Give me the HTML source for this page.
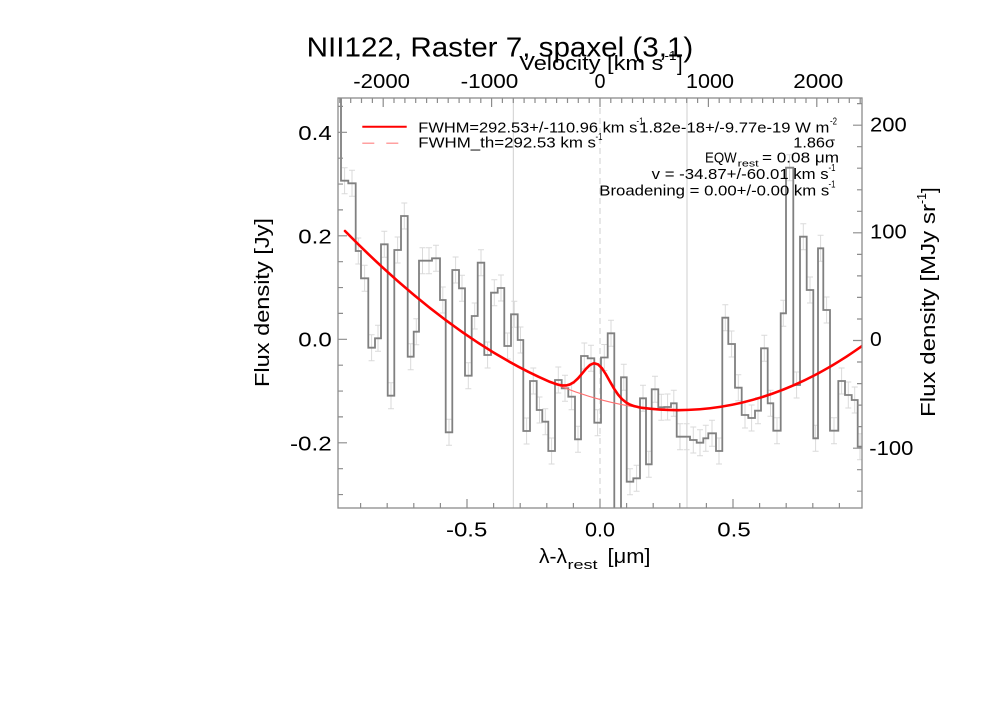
<!DOCTYPE html>
<html>
<head>
<meta charset="utf-8">
<style>
html,body{margin:0;padding:0;background:#fff;}
svg{display:block;}
text{font-family:"Liberation Sans",Arial,sans-serif;fill:#000;}
</style>
</head>
<body>
<svg width="1000" height="714" viewBox="0 0 1000 714" xmlns="http://www.w3.org/2000/svg">
<rect x="0" y="0" width="1000" height="714" fill="#fff"/>
<defs>
<clipPath id="pc"><rect x="338" y="98" width="524" height="410"/></clipPath>
</defs>

<!-- guide lines -->
<g stroke="#cfcfcf" stroke-width="1" fill="none">
<line x1="513.3" y1="98" x2="513.3" y2="508"/>
<line x1="687" y1="98" x2="687" y2="508"/>
<line x1="600" y1="98" x2="600" y2="508" stroke-dasharray="6 4"/>
</g>

<!-- error bars -->
<g clip-path="url(#pc)" stroke="#dadada" stroke-width="1" fill="none">
<path d="
M344.6,167.7V193.7M341.6,167.7H347.6M341.6,193.7H347.6
M352,170.3V196.3M349,170.3H355M349,196.3H355
M358.3,238V264M355.3,238H361.3M355.3,264H361.3
M364.6,265.3V291.3M361.6,265.3H367.6M361.6,291.3H367.6
M371.6,334.7V360.7M368.6,334.7H374.6M368.6,360.7H374.6
M378,325.3V351.3M375,325.3H381M375,351.3H381
M384.3,231.3V257.3M381.3,231.3H387.3M381.3,257.3H387.3
M391,382.7V408.7M388,382.7H394M388,408.7H394
M397.6,237V263M394.6,237H400.6M394.6,263H400.6
M404.3,203V229M401.3,203H407.3M401.3,229H407.3
M410.7,343.7V369.7M407.7,343.7H413.7M407.7,369.7H413.7
M416.3,318.7V344.7M413.3,318.7H419.3M413.3,344.7H419.3
M422.5,247.7V273.7M419.5,247.7H425.5M419.5,273.7H425.5
M429,247.7V273.7M426,247.7H432M426,273.7H432
M436,245.3V271.3M433,245.3H439M433,271.3H439
M442.8,287V313M439.8,287H445.8M439.8,313H445.8
M449,419.3V445.3M446,419.3H452M446,445.3H452
M455.6,257V283M452.6,257H458.6M452.6,283H458.6
M462,275.3V301.3M459,275.3H465M459,301.3H465
M468.3,362.7V388.7M465.3,362.7H471.3M465.3,388.7H471.3
M474.7,303V329M471.7,303H477.7M471.7,329H477.7
M481,249.7V275.7M478,249.7H484M478,275.7H484
M487.6,342V368M484.6,342H490.6M484.6,368H490.6
M494.3,279.7V305.7M491.3,279.7H497.3M491.3,305.7H497.3
M501,275V301M498,275H504M498,301H504
M507.6,333V359M504.6,333H510.6M504.6,359H510.6
M514.3,301.3V327.3M511.3,301.3H517.3M511.3,327.3H517.3
M520.5,327V353M517.5,327H523.5M517.5,353H523.5
M526.6,418V444M523.6,418H529.6M523.6,444H529.6
M533.3,368V394M530.3,368H536.3M530.3,394H536.3
M539.5,397V423M536.5,397H542.5M536.5,423H542.5
M545.3,408.7V434.7M542.3,408.7H548.3M542.3,434.7H548.3
M551.6,438V464M548.6,438H554.6M548.6,464H554.6
M558.3,367V393M555.3,367H561.3M555.3,393H561.3
M565,375.3V401.3M562,375.3H568M562,401.3H568
M571.6,383.7V409.7M568.6,383.7H574.6M568.6,409.7H574.6
M578,426.3V452.3M575,426.3H581M575,452.3H581
M584.3,343V369M581.3,343H587.3M581.3,369H587.3
M591,345.3V371.3M588,345.3H594M588,371.3H594
M597.6,409.7V435.7M594.6,409.7H600.6M594.6,435.7H600.6
M604.3,344.5V370.5M601.3,344.5H607.3M601.3,370.5H607.3
M611,320.3V346.3M608,320.3H614M608,346.3H614
M623.8,364.3V390.3M620.8,364.3H626.8M620.8,390.3H626.8
M630,468.7V494.7M627,468.7H633M627,494.7H633
M636.6,465.3V491.3M633.6,465.3H639.6M633.6,491.3H639.6
M643,385.3V411.3M640,385.3H646M640,411.3H646
M648.8,451.3V477.3M645.8,451.3H651.8M645.8,477.3H651.8
M655,376.3V402.3M652,376.3H658M652,402.3H658
M661.3,394.3V420.3M658.3,394.3H664.3M658.3,420.3H664.3
M667.6,394V420M664.6,394H670.6M664.6,420H670.6
M673.8,390.3V416.3M670.8,390.3H676.8M670.8,416.3H676.8
M680,423.7V449.7M677,423.7H683M677,449.7H683
M686.6,423.7V449.7M683.6,423.7H689.6M683.6,449.7H689.6
M693.3,427V453M690.3,427H696.3M690.3,453H696.3
M700,429.7V455.7M697,429.7H703M697,455.7H703
M705.8,425.3V451.3M702.8,425.3H708.8M702.8,451.3H708.8
M712,420.3V446.3M709,420.3H715M709,446.3H715
M719,438V464M716,438H722M716,464H722
M725.3,304.7V330.7M722.3,304.7H728.3M722.3,330.7H728.3
M731.6,331V357M728.6,331H734.6M728.6,357H734.6
M738.3,374.7V400.7M735.3,374.7H741.3M735.3,400.7H741.3
M745,402V428M742,402H748M742,428H748
M751.6,405V431M748.6,405H754.6M748.6,431H754.6
M758,397.7V423.7M755,397.7H761M755,423.7H761
M764.3,335.3V361.3M761.3,335.3H767.3M761.3,361.3H767.3
M770.5,390.3V416.3M767.5,390.3H773.5M767.5,416.3H773.5
M777,417.7V443.7M774,417.7H780M774,443.7H780
M783.3,300.3V326.3M780.3,300.3H786.3M780.3,326.3H786.3
M789.6,154.7V180.7M786.6,154.7H792.6M786.6,180.7H792.6
M796.6,372V398M793.6,372H799.6M793.6,398H799.6
M803.3,223.7V249.7M800.3,223.7H806.3M800.3,249.7H806.3
M810,277V303M807,277H813M807,303H813
M815.6,425.3V451.3M812.6,425.3H818.6M812.6,451.3H818.6
M820.6,235.3V261.3M817.6,235.3H823.6M817.6,261.3H823.6
M826.6,297V323M823.6,297H829.6M823.6,323H829.6
M834,417.7V443.7M831,417.7H837M831,443.7H837
M841.6,368V394M838.6,368H844.6M838.6,394H844.6
M848.3,382V408M845.3,382H851.3M845.3,408H851.3
M854.7,387V413M851.7,387H857.7M851.7,413H857.7
M860,433.7V459.7M857,433.7H863M857,459.7H863
"/>
</g>

<!-- histogram -->
<g clip-path="url(#pc)">
<path fill="none" stroke="#808080" stroke-width="1.8" stroke-linejoin="miter" d="M341,90 V180.7 H348.3 V183.3 H355.7 V251 H361 V278.3 H368.3 V347.7 H375 V338.3 H381 V244.3 H387.7 V395.7 H394.3 V250 H401 V216 H407.7 V356.7 H413.7 V331.7 H419 V260.7 H432 V258.3 H440 V300 H445.7 V432.3 H452.3 V270 H459 V288.3 H465 V375.7 H471.7 V316 H477.7 V262.7 H484.3 V355 H491 V292.7 H497.7 V288 H504.3 V346 H511 V314.3 H517.7 V340 H523.3 V431 H530 V381 H536.7 V410 H542.3 V421.7 H548.3 V451 H555 V380 H561.7 V388.3 H568.3 V396.7 H575 V439.3 H581 V356 H587.7 V358.3 H594.3 V422.7 H601 V357.5 H607.7 V333.3 H614.3 V530 H621 V377.3 H626.7 V481.7 H633.3 V478.3 H640 V398.3 H646 V464.3 H651.7 V389.3 H658.3 V407.3 H664.3 V407 H671 V403.3 H676.7 V436.7 H690 V440 H696.7 V442.7 H703.3 V438.3 H708.3 V433.3 H716 V451 H722.3 V317.7 H728.3 V344 H735 V387.7 H741.7 V415 H748.3 V418 H755 V410.7 H761 V348.3 H767.7 V403.3 H773.3 V430.7 H780.7 V313.3 H786 V167.7 H793.3 V385 H800 V236.7 H806.7 V290 H813.3 V438.3 H818 V248.3 H823.3 V310 H830 V430.7 H838.3 V381 H845 V395 H851.7 V400 H857.7 V446.7 H866"/>
</g>

<!-- fit curves -->
<g clip-path="url(#pc)" fill="none">
<path stroke="#ff7070" stroke-width="1.1" d="M345,231.02 C517.3,406.25 689.7,469.23 862,346.02"/>
<path stroke="#ff0000" stroke-width="2.6" stroke-linejoin="round" stroke-linecap="round" d="M345,231.02 C413.33,300.5 481.67,352.33 550,381.9 L554,383.33 L558,384.59 L562,385.40 L566,385.45 L570,384.43 L574,382.08 L578,378.37 L582,373.67 L586,368.79 L590,364.93 L594,363.20 L598,364.33 L602,368.32 L606,374.46 L610,381.60 L614,388.56 L618,394.53 L622,399.15 L626,402.42 L630,404.61 L634,406.06 L638,407.04 L642,407.85 C715.33,417.16 788.67,398.45 862,346.02"/>
</g>

<!-- frame -->
<rect x="338" y="98" width="524" height="410" fill="none" stroke="#8c8c8c" stroke-width="1.3"/>

<!-- ticks -->
<g stroke="#8c8c8c" stroke-width="1.2" fill="none">
<path d="M360.6,508v-5M387.2,508v-5M413.8,508v-5M440.4,508v-5M467,508v-9M493.6,508v-5M520.2,508v-5M546.8,508v-5M573.4,508v-5M600,508v-9M626.6,508v-5M653.2,508v-5M679.8,508v-5M706.4,508v-5M733,508v-9M759.6,508v-5M786.2,508v-5M812.8,508v-5M839.4,508v-5"/>
<path d="M339.8,98v5M350.7,98v5M361.5,98v5M372.4,98v5M383.2,98v9M394,98v5M404.9,98v5M415.7,98v5M426.6,98v5M437.4,98v5M448.2,98v5M459.1,98v5M469.9,98v5M480.8,98v5M491.6,98v9M502.4,98v5M513.3,98v5M524.1,98v5M535,98v5M545.8,98v5M556.6,98v5M567.5,98v5M578.3,98v5M589.2,98v5M600,98v9M610.8,98v5M621.7,98v5M632.5,98v5M643.4,98v5M654.2,98v5M665,98v5M675.9,98v5M686.7,98v5M697.6,98v5M708.4,98v9M719.2,98v5M730.1,98v5M740.9,98v5M751.8,98v5M762.6,98v5M773.4,98v5M784.3,98v5M795.1,98v5M806,98v5M816.8,98v9M827.6,98v5M838.5,98v5M849.3,98v5M860.2,98v5"/>
<path d="M338,494.55h5M338,468.7h5M338,442.8h9M338,416.9h5M338,391.05h5M338,365.2h5M338,339.3h9M338,313.4h5M338,287.55h5M338,261.7h5M338,235.8h9M338,209.9h5M338,184.05h5M338,158.2h5M338,132.3h9M338,106.4h5"/>
<path d="M862,491.2h-5M862,469.7h-5M862,448.2h-9M862,426.6h-5M862,405.1h-5M862,383.6h-5M862,362h-5M862,340.5h-9M862,319h-5M862,297.4h-5M862,275.9h-5M862,254.4h-5M862,232.8h-9M862,211.3h-5M862,189.8h-5M862,168.2h-5M862,146.7h-5M862,125.2h-9M862,103.6h-5"/>
</g>

<!-- title -->
<text x="306.7" y="56.7" font-size="28" textLength="386.6" lengthAdjust="spacingAndGlyphs">NII122, Raster 7, spaxel (3,1)</text>

<!-- top axis title -->
<text x="519.3" y="70" font-size="20" textLength="144" lengthAdjust="spacingAndGlyphs">Velocity [km s</text>
<text x="664.5" y="60" font-size="13" textLength="12" lengthAdjust="spacingAndGlyphs">-1</text>
<text x="677" y="71" font-size="20">]</text>

<!-- top tick labels -->
<g font-size="20">
<text x="353.3" y="88" textLength="56.7" lengthAdjust="spacingAndGlyphs">-2000</text>
<text x="460.7" y="88" textLength="57.6" lengthAdjust="spacingAndGlyphs">-1000</text>
<text x="594.5" y="88" textLength="11" lengthAdjust="spacingAndGlyphs">0</text>
<text x="686" y="88" textLength="48" lengthAdjust="spacingAndGlyphs">1000</text>
<text x="793.3" y="88" textLength="50" lengthAdjust="spacingAndGlyphs">2000</text>
</g>

<!-- bottom tick labels -->
<g font-size="20">
<text x="446" y="536.5" textLength="41.3" lengthAdjust="spacingAndGlyphs">-0.5</text>
<text x="585" y="536.5" textLength="30" lengthAdjust="spacingAndGlyphs">0.0</text>
<text x="717.3" y="536.5" textLength="33.4" lengthAdjust="spacingAndGlyphs">0.5</text>
</g>

<!-- x title -->
<text x="539" y="563" font-size="20" textLength="28" lengthAdjust="spacingAndGlyphs">λ-λ</text>
<text x="567.5" y="569" font-size="13" textLength="30" lengthAdjust="spacingAndGlyphs">rest</text>
<text x="607.5" y="563" font-size="20" textLength="43" lengthAdjust="spacingAndGlyphs">[μm]</text>

<!-- left tick labels -->
<g font-size="20">
<text x="298.3" y="140" textLength="33.4" lengthAdjust="spacingAndGlyphs">0.4</text>
<text x="298.3" y="243.3" textLength="33.4" lengthAdjust="spacingAndGlyphs">0.2</text>
<text x="298.3" y="346.7" textLength="33.4" lengthAdjust="spacingAndGlyphs">0.0</text>
<text x="290" y="450.7" textLength="41.7" lengthAdjust="spacingAndGlyphs">-0.2</text>
</g>

<!-- right tick labels -->
<g font-size="20">
<text x="870" y="131.7" textLength="36.7" lengthAdjust="spacingAndGlyphs">200</text>
<text x="870" y="238.3" textLength="36.7" lengthAdjust="spacingAndGlyphs">100</text>
<text x="870" y="346" textLength="11.7" lengthAdjust="spacingAndGlyphs">0</text>
<text x="869.3" y="455" textLength="44" lengthAdjust="spacingAndGlyphs">-100</text>
</g>

<!-- left y title -->
<text transform="translate(269,387) rotate(-90)" font-size="20" textLength="169" lengthAdjust="spacingAndGlyphs">Flux density [Jy]</text>

<!-- right y title -->
<text transform="translate(935,417) rotate(-90)" font-size="20" textLength="213" lengthAdjust="spacingAndGlyphs">Flux density [MJy sr</text>
<text transform="translate(926,204) rotate(-90)" font-size="13" textLength="11" lengthAdjust="spacingAndGlyphs">-1</text>
<text transform="translate(936,193) rotate(-90)" font-size="20">]</text>

<!-- legend -->
<line x1="362.3" y1="126.7" x2="406.7" y2="126.7" stroke="#ff0000" stroke-width="2"/>
<line x1="362.3" y1="143.3" x2="406.7" y2="143.3" stroke="#ffa0a0" stroke-width="1.5" stroke-dasharray="12 12"/>
<g font-size="15" fill="#ff0000">
<text x="418.3" y="132.3" fill="#ff0000" textLength="219" lengthAdjust="spacingAndGlyphs">FWHM=292.53+/-110.96 km s</text>
<text x="636.5" y="124.5" font-size="10" fill="#ff0000" textLength="7" lengthAdjust="spacingAndGlyphs">-1</text>
<text x="418.3" y="147.5" fill="#ff0000" textLength="177.7" lengthAdjust="spacingAndGlyphs">FWHM_th=292.53 km s</text>
<text x="595.5" y="140" font-size="10" fill="#ff0000" textLength="7" lengthAdjust="spacingAndGlyphs">-1</text>
</g>

<!-- stats block -->
<g font-size="15">
<text x="639.3" y="132.7" textLength="190" lengthAdjust="spacingAndGlyphs">1.82e-18+/-9.77e-19 W m</text>
<text x="830" y="124.5" font-size="10" textLength="7" lengthAdjust="spacingAndGlyphs">-2</text>
<text x="793.3" y="147.7" textLength="41.7" lengthAdjust="spacingAndGlyphs">1.86σ</text>
<text x="705" y="162.3" textLength="31.7" lengthAdjust="spacingAndGlyphs">EQW</text>
<text x="737.7" y="166.7" font-size="9" textLength="21" lengthAdjust="spacingAndGlyphs">rest</text>
<text x="762" y="162.3" textLength="77" lengthAdjust="spacingAndGlyphs">= 0.08 μm</text>
<text x="651.7" y="179" textLength="177" lengthAdjust="spacingAndGlyphs">v = -34.87+/-60.01 km s</text>
<text x="828.5" y="171" font-size="10" textLength="7" lengthAdjust="spacingAndGlyphs">-1</text>
<text x="599.3" y="195.7" textLength="230" lengthAdjust="spacingAndGlyphs">Broadening = 0.00+/-0.00 km s</text>
<text x="828.5" y="187.5" font-size="10" textLength="7" lengthAdjust="spacingAndGlyphs">-1</text>
</g>
</svg>
</body>
</html>
